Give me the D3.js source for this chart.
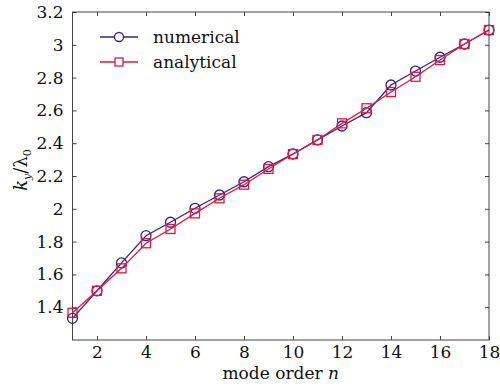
<!DOCTYPE html>
<html>
<head>
<meta charset="utf-8">
<script src="https://cdn.jsdelivr.net/npm/d3@7"></script>
<style>
  body { margin: 0; background: #fff; }
  svg text { font-family: "DejaVu Serif", serif !important; }
</style>
</head>
<body>
<div id="chart"></div>
<script>
const WIDTH = 500;
const HEIGHT = 390;
const NUM_COLOR = "#3a2088";
const ANA_COLOR = "#e3163f";
const AXIS_COLOR = "#444";
const FONT = "DejaVu Serif, serif";

// --------------- data ---------------
const modeOrder = [1, 2, 3, 4, 5, 6, 7, 8, 9, 10, 11, 12, 13, 14, 15, 16, 17, 18];
const numerical = [1.332, 1.5, 1.67, 1.836, 1.918, 2.003, 2.084, 2.165, 2.257, 2.334,
                   2.42, 2.505, 2.586, 2.755, 2.84, 2.924, 3.005, 3.09];
const analytical = [1.366, 1.5, 1.637, 1.79, 1.877, 1.972, 2.064, 2.147, 2.243, 2.334,
                    2.42, 2.521, 2.613, 2.712, 2.805, 2.907, 3.005, 3.09];
const xTicks = [2, 4, 6, 8, 10, 12, 14, 16, 18];
const yTicks = [1.4, 1.6, 1.8, 2, 2.2, 2.4, 2.6, 2.8, 3, 3.2];
const seriesNames = ["numerical", "analytical"];

const margin = { top: 12, right: 11, bottom: 50, left: 72.5 };

const svg = d3.select("#chart").append("svg")
  .attr("width", WIDTH)
  .attr("height", HEIGHT)
  .attr("font-family", FONT);

const x = d3.scaleLinear().domain([1, 18]).range([margin.left, WIDTH - margin.right]);
const y = d3.scaleLinear().domain([1.2, 3.2]).range([HEIGHT - margin.bottom, margin.top]);

const fmt = d => String(+d.toFixed(1));

// --------------- axes (mirrored ticks, pointing inward) ---------------
function styleAxis(g) {
  g.attr("font-family", FONT);
  g.select(".domain").remove();
  g.selectAll(".tick line").attr("stroke", AXIS_COLOR);
  g.selectAll(".tick text").attr("fill", "#111").attr("font-size", 17);
}

svg.append("g")
  .attr("transform", `translate(0,${y.range()[0]})`)
  .call(d3.axisBottom(x).tickValues(xTicks).tickFormat(fmt).tickSizeInner(-4).tickSizeOuter(0).tickPadding(6))
  .call(styleAxis);

svg.append("g")
  .attr("transform", `translate(0,${y.range()[1]})`)
  .call(d3.axisTop(x).tickValues(xTicks).tickFormat("").tickSizeInner(-4).tickSizeOuter(0))
  .call(styleAxis);

svg.append("g")
  .attr("transform", `translate(${x.range()[0]},0)`)
  .call(d3.axisLeft(y).tickValues(yTicks).tickFormat(fmt).tickSizeInner(-4).tickSizeOuter(0).tickPadding(9))
  .call(styleAxis);

svg.append("g")
  .attr("transform", `translate(${x.range()[1]},0)`)
  .call(d3.axisRight(y).tickValues(yTicks).tickFormat("").tickSizeInner(-4).tickSizeOuter(0))
  .call(styleAxis);

// frame
svg.append("rect")
  .attr("x", x.range()[0])
  .attr("y", y.range()[1])
  .attr("width", x.range()[1] - x.range()[0])
  .attr("height", y.range()[0] - y.range()[1])
  .attr("fill", "none")
  .attr("stroke", AXIS_COLOR)
  .attr("stroke-width", 1);

// --------------- series ---------------
const line = d3.line()
  .x((d, i) => x(modeOrder[i]))
  .y(d => y(d));

svg.append("path")
  .datum(numerical)
  .attr("d", line)
  .attr("fill", "none")
  .attr("stroke", NUM_COLOR)
  .attr("stroke-width", 1.3);

svg.append("g")
  .selectAll("circle")
  .data(numerical)
  .enter()
  .append("circle")
  .attr("cx", (d, i) => x(modeOrder[i]))
  .attr("cy", d => y(d))
  .attr("r", 5)
  .attr("fill", "none")
  .attr("stroke", NUM_COLOR)
  .attr("stroke-width", 1.3);

svg.append("path")
  .datum(analytical)
  .attr("d", line)
  .attr("fill", "none")
  .attr("stroke", ANA_COLOR)
  .attr("stroke-width", 1.3);

svg.append("g")
  .selectAll("rect")
  .data(analytical)
  .enter()
  .append("rect")
  .attr("x", (d, i) => x(modeOrder[i]) - 4.5)
  .attr("y", d => y(d) - 4.5)
  .attr("width", 9)
  .attr("height", 9)
  .attr("fill", "none")
  .attr("stroke", ANA_COLOR)
  .attr("stroke-width", 1.3);

// --------------- legend ---------------
const legend = svg.append("g").attr("transform", "translate(100,37)");
seriesNames.forEach((name, i) => {
  const col = i === 0 ? NUM_COLOR : ANA_COLOR;
  const row = legend.append("g").attr("transform", `translate(0,${i * 25})`);
  row.append("line")
    .attr("x1", 0).attr("x2", 38)
    .attr("stroke", col).attr("stroke-width", 1.3);
  if (i === 0) {
    row.append("circle").attr("cx", 19).attr("r", 4.5)
      .attr("fill", "#fff").attr("stroke", col).attr("stroke-width", 1.3);
  } else {
    row.append("rect").attr("x", 15).attr("y", -4).attr("width", 8).attr("height", 8)
      .attr("fill", "#fff").attr("stroke", col).attr("stroke-width", 1.3);
  }
  row.append("text")
    .attr("x", 53)
    .attr("y", 6)
    .attr("font-size", 17)
    .attr("fill", "#111")
    .text(name);
});

// --------------- axis titles ---------------
const xt = svg.append("text")
  .attr("x", (x.range()[0] + x.range()[1]) / 2)
  .attr("y", 379)
  .attr("text-anchor", "middle")
  .attr("font-size", 17)
  .attr("fill", "#111");
xt.append("tspan").text("mode order ");
xt.append("tspan").attr("font-style", "italic").text("n");

const yt = svg.append("text")
  .attr("transform", "translate(27,170) rotate(-90)")
  .attr("text-anchor", "middle")
  .attr("font-size", 18)
  .attr("fill", "#111");
yt.append("tspan").attr("font-style", "italic").text("k");
yt.append("tspan").attr("font-style", "italic").attr("font-size", 11).attr("dy", 4).text("y");
yt.append("tspan").attr("dy", -4).text("/λ");
yt.append("tspan").attr("font-size", 11).attr("dy", 4).text("0");
</script>
</body>
</html>
